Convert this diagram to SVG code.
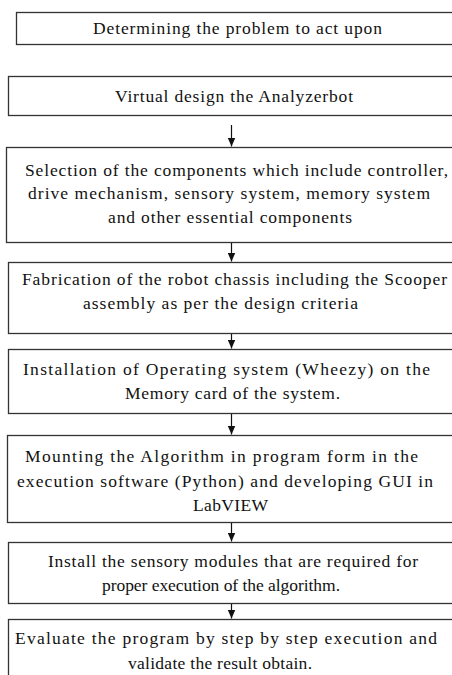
<svg xmlns="http://www.w3.org/2000/svg" width="452" height="675" viewBox="0 0 452 675">
<style>
.box{fill:#fff;stroke:#333;stroke-width:1.3}
.t{font-family:"Liberation Serif","Tinos","DejaVu Serif",serif;font-size:17.5px;fill:#111}
.c{stroke:#111;stroke-width:1.2;fill:none}
</style>
<defs>
<marker id="ah" viewBox="0 0 9 8" refX="9" refY="4" markerWidth="9" markerHeight="8" markerUnits="userSpaceOnUse" orient="auto">
<path d="M0,0 L9,4 L0,8 Z" fill="#111"/>
</marker>
</defs>
<rect width="452" height="675" fill="#fff"/>
<g id="connectors">
<path class="c" d="M231.5,125 V146.5" marker-end="url(#ah)"/>
<path class="c" d="M231.5,243 V261.5" marker-end="url(#ah)"/>
<path class="c" d="M231.5,334 V348.5" marker-end="url(#ah)"/>
<path class="c" d="M231.5,414 V434.5" marker-end="url(#ah)"/>
<path class="c" d="M231.5,523 V541.5" marker-end="url(#ah)"/>
<path class="c" d="M231.5,604 V618.5" marker-end="url(#ah)"/>
</g>
<g id="n1">
<rect class="box" x="16.5" y="12.5" width="450" height="32"/>
<text class="t" x="93" y="34" textLength="289" lengthAdjust="spacing">Determining  the problem  to act upon</text>
</g>
<g id="n2">
<rect class="box" x="8.5" y="76.5" width="460" height="39"/>
<text class="t" x="115" y="101.5" textLength="238" lengthAdjust="spacing">Virtual  design  the Analyzerbot</text>
</g>
<g id="n3">
<rect class="box" x="6.5" y="147.5" width="460" height="95"/>
<text class="t" x="25" y="175.5" textLength="423" lengthAdjust="spacing">Selection  of the components  which  include  controller,</text>
<text class="t" x="28" y="199" textLength="402" lengthAdjust="spacing">drive mechanism,  sensory  system, memory  system</text>
<text class="t" x="108" y="222.5" textLength="244" lengthAdjust="spacing">and other essential  components</text>
</g>
<g id="n4">
<rect class="box" x="8.5" y="262.5" width="460" height="71"/>
<text class="t" x="22" y="284.5" textLength="425" lengthAdjust="spacing">Fabrication  of the robot chassis including  the Scooper</text>
<text class="t" x="83" y="308.5" textLength="275" lengthAdjust="spacing">assembly  as per the  design  criteria</text>
</g>
<g id="n5">
<rect class="box" x="8.5" y="349.5" width="460" height="64"/>
<text class="t" x="23" y="375" textLength="407" lengthAdjust="spacing">Installation  of Operating  system  (Wheezy)  on the</text>
<text class="t" x="125" y="399" textLength="215" lengthAdjust="spacing">Memory  card  of the  system.</text>
</g>
<g id="n6">
<rect class="box" x="7.5" y="435.5" width="460" height="87"/>
<text class="t" x="25" y="462" textLength="393" lengthAdjust="spacing">Mounting  the  Algorithm  in  program form  in  the</text>
<text class="t" x="17" y="487" textLength="416" lengthAdjust="spacing">execution  software  (Python)  and developing  GUI in</text>
<text class="t" x="193" y="511" textLength="75" lengthAdjust="spacing">LabVIEW</text>
</g>
<g id="n7">
<rect class="box" x="8.5" y="542.5" width="460" height="61"/>
<text class="t" x="48" y="567" textLength="370" lengthAdjust="spacing">Install  the sensory modules  that are required  for</text>
<text class="t" x="102" y="591" textLength="238" lengthAdjust="spacing">proper execution  of the  algorithm.</text>
</g>
<g id="n8">
<rect class="box" x="8.5" y="619.5" width="460" height="80"/>
<text class="t" x="15" y="644" textLength="422" lengthAdjust="spacing">Evaluate  the program  by step by step execution  and</text>
<text class="t" x="128" y="669" textLength="184" lengthAdjust="spacing">validate  the result  obtain.</text>
</g>
</svg>
